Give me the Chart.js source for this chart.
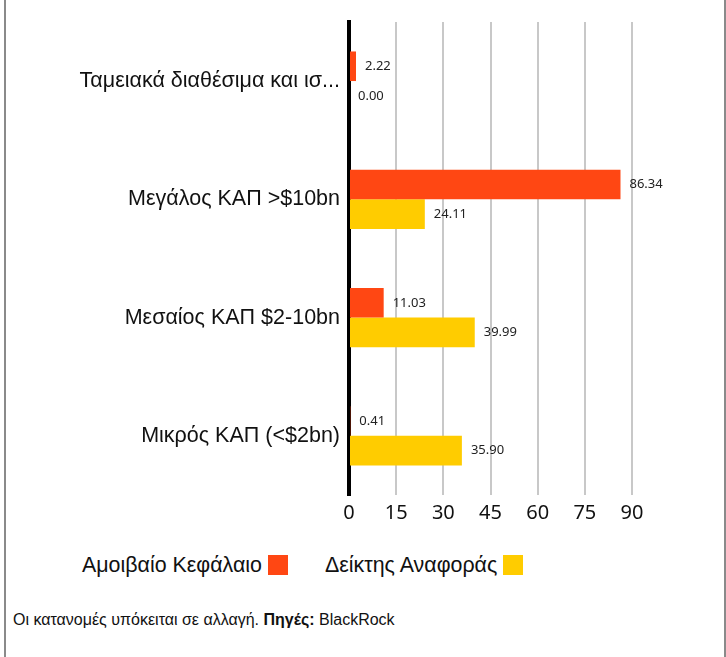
<!DOCTYPE html>
<html lang="el">
<head>
<meta charset="UTF-8">
<title>Κατανομή κεφαλαιοποίησης</title>
<style>
    body { margin: 0; background: #fff; font-family: Arial, "Liberation Sans", sans-serif; }
    .frame {
        position: relative;
        width: 718px; height: 657px;
        margin-left: 4px;
        border-left: 2px solid #8a8a8a;
        border-right: 2px solid #8a8a8a;
    }
    #chartWrap { position: absolute; left: -6px; top: 0; width: 726px; height: 530px; }
    .legend { position: absolute; top: 553px; left: 0; font-size: 21.4px; color: #111; }
    .legend span.item { position: absolute; white-space: nowrap; }
    .legend i { display: inline-block; width: 20px; height: 20px; vertical-align: -3px; margin-left: 6px; }
    .note { position: absolute; top: 611px; left: 7px; font-size: 16px; color: #111; }
</style>
</head>
<body>
<div class="frame">
    <div id="chartWrap"><canvas id="chart"></canvas></div>
    <div class="legend">
        <span class="item" style="left:76px">Αμοιβαίο Κεφάλαιο<i style="background:#FF4713"></i></span>
        <span class="item" style="left:319px">Δείκτης Αναφοράς<i style="background:#FFCC00"></i></span>
    </div>
    <div class="note">Οι κατανομές υπόκειται σε αλλαγή. <b>Πηγές:</b> BlackRock</div>
</div>

<script src="https://cdn.jsdelivr.net/npm/chart.js"></script>
<script>
    const categories = ['Ταμειακά διαθέσιμα και ισ...', 'Μεγάλος ΚΑΠ >$10bn', 'Μεσαίος ΚΑΠ $2-10bn', 'Μικρός ΚΑΠ (<$2bn)'];
    const fundValues = [2.22, 86.34, 11.03, 0.41];
    const benchmarkValues = [0.00, 24.11, 39.99, 35.90];
    const seriesNames = ['Αμοιβαίο Κεφάλαιο', 'Δείκτης Αναφοράς'];
    const xTicks = [0, 15, 30, 45, 60, 75, 90];

    const tickFont = '"Noto Sans", Lato, sans-serif';

    // value labels to the right of each bar
    const valueLabels = {
        id: 'valueLabels',
        afterDatasetsDraw(chart) {
            const ctx = chart.ctx;
            ctx.save();
            ctx.font = '13px ' + tickFont;
            ctx.fillStyle = '#222';
            ctx.textBaseline = 'middle';
            ctx.textAlign = 'left';
            chart.data.datasets.forEach((ds, i) => {
                chart.getDatasetMeta(i).data.forEach((bar, j) => {
                    ctx.fillText(ds.data[j].toFixed(2), bar.x + 9, bar.y);
                });
            });
            ctx.restore();
        }
    };

    new Chart(document.getElementById('chart'), {
        type: 'bar',
        data: {
            labels: categories,
            datasets: [
                { label: seriesNames[0], data: fundValues, backgroundColor: '#FF4713' },
                { label: seriesNames[1], data: benchmarkValues, backgroundColor: '#FFCC00' }
            ]
        },
        options: {
            indexAxis: 'y',
            responsive: true,
            maintainAspectRatio: false,
            animation: false,
            datasets: { bar: { categoryPercentage: 0.5, barPercentage: 1 } },
            layout: { padding: { top: 15, right: 94, left: 0, bottom: 0 } },
            plugins: { legend: { display: false }, tooltip: { enabled: false } },
            scales: {
                x: {
                    min: 0, max: 90,
                    afterBuildTicks: (s) => { s.ticks = xTicks.map(v => ({ value: v })); },
                    afterFit: (s) => { s.height = 35; },
                    grid: { color: '#c8c8c8', lineWidth: 2, drawTicks: false },
                    border: { display: false },
                    ticks: { color: '#111', padding: 6, font: { size: 20, family: tickFont } }
                },
                y: {
                    afterFit: (s) => { s.width = 349; },
                    grid: { display: false, drawTicks: false },
                    border: { color: '#000', width: 4 },
                    ticks: { color: '#111', padding: 9, font: { size: 21.5, family: 'Arial, "Liberation Sans", sans-serif' } }
                }
            }
        },
        plugins: [valueLabels]
    });
</script>
</body>
</html>
